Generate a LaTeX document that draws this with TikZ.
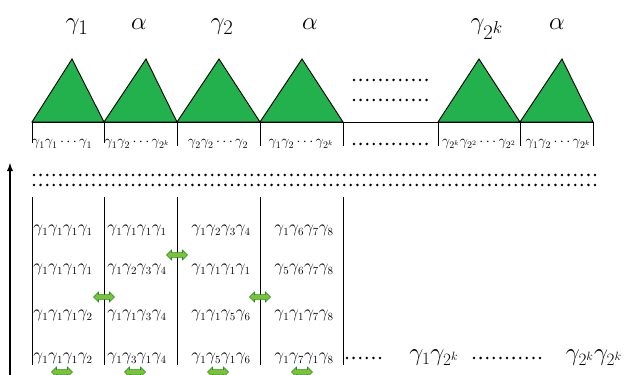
\documentclass[tikz,border=0pt]{standalone}
\usetikzlibrary{positioning,shapes.arrows}
\definecolor{trigreen}{RGB}{34,177,76}
\definecolor{swapfill}{RGB}{122,196,52}
\definecolor{swapline}{RGB}{38,140,46}
\tikzset{
  tri/.style={draw=black, fill=trigreen, line width=0.9pt},
  big/.style={font=\fontsize{32}{34}\selectfont, inner sep=0pt, anchor=base},
  cell/.style={font=\fontsize{14}{16}\selectfont, inner sep=0pt, anchor=base},
  word/.style={font=\fontsize{16}{18}\selectfont, inner sep=0pt, anchor=base},
  tail/.style={font=\fontsize{24}{26}\selectfont, inner sep=0pt, anchor=base},
  dotrow/.style={line width=2.8pt, line cap=round, dash pattern=on 0pt off 6.6pt},
  swaparrow/.style={double arrow, fill=swapfill, draw=swapline, line width=0.6pt,
    minimum width=10pt, minimum height=21pt, inner sep=1.6pt, double arrow head extend=2pt},
}

\begin{document}
\begin{tikzpicture}[x=1pt, y=1pt]
    \useasboundingbox (0,0) rectangle (633,375);

    % triangles on the top line
    \draw[tri] (32,253) -- (72,316) -- (104,253) -- cycle;
    \draw[tri] (104,253) -- (146,316) -- (177,253) -- cycle;
    \draw[tri] (177,253) -- (219,316) -- (260,253) -- cycle;
    \draw[tri] (260,253) -- (302,316) -- (343,253) -- cycle;
    \draw[tri] (438,253) -- (479,316) -- (520,253) -- cycle;
    \draw[tri] (520,253) -- (562,316) -- (593,253) -- cycle;
    \draw[line width=0.9pt] (32,253) -- (593,253);

    \node[big] (t1) at (77,345) {$\gamma_1$};
    \node[big] (t2) at (139,345) {$\alpha$};
    \node[big] (t3) at (222,345) {$\gamma_2$};
    \node[big] (t4) at (310,345) {$\alpha$};
    \node[big] (t5) at (487,345) {$\gamma_{2^k}$};
    \node[big] (t6) at (557,345) {$\alpha$};

    \draw[dotrow] (354,295) -- (428,295);
    \draw[dotrow] (354,275) -- (428,275);

    % ticks and words under the triangles
    \draw[line width=0.8pt] (32,253) -- (32,232);
    \draw[line width=0.8pt] (104,253) -- (104,232);
    \draw[line width=0.8pt] (177,253) -- (177,229);
    \draw[line width=0.8pt] (260,253) -- (260,229);
    \draw[line width=0.8pt] (343,253) -- (343,229);
    \draw[line width=0.8pt] (438,253) -- (438,229);
    \draw[line width=0.8pt] (520,253) -- (520,229);
    \draw[line width=0.8pt] (593,253) -- (593,229);

    \node[cell] (w1) at (62,229) {$\gamma_1\gamma_1\cdots\gamma_1$};
    \node[cell] (w2) at (137,229) {$\gamma_1\gamma_2\cdots\gamma_{2^k}$};
    \node[cell] (w3) at (218,229) {$\gamma_2\gamma_2\cdots\gamma_2$};
    \node[cell] (w4) at (301,229) {$\gamma_1\gamma_2\cdots\gamma_{2^k}$};
    \node[cell] (w5) at (479,229) {$\gamma_{2^k}\gamma_{2^2}\cdots\gamma_{2^2}$};
    \node[cell] (w6) at (558,229) {$\gamma_1\gamma_2\cdots\gamma_{2^k}$};
    \draw[dotrow] (354,231) -- (428,231);

    \draw[dotrow] (34,200) -- (598,200);
    \draw[dotrow] (34,190) -- (598,190);

    % time axis
    \draw[-latex, line width=1.8pt] (10,0) -- (10,212);

    % the population, column by column
    \draw[line width=1pt] (32,178) -- (32,10);
    \draw[line width=1pt] (104,178) -- (104,10);
    \draw[line width=1pt] (177,178) -- (177,10);
    \draw[line width=1pt] (260,178) -- (260,10);
    \draw[line width=1pt] (343,178) -- (343,10);

    \node[word] (a1) at (63,142) {$\gamma_1\gamma_1\gamma_1\gamma_1$};
    \node[word] (a2) at (63,103) {$\gamma_1\gamma_1\gamma_1\gamma_1$};
    \node[word] (a3) at (63,57) {$\gamma_1\gamma_1\gamma_1\gamma_2$};
    \node[word] (a4) at (63,14) {$\gamma_1\gamma_1\gamma_1\gamma_2$};

    \node[word] (b1) at (137,142) {$\gamma_1\gamma_1\gamma_1\gamma_1$};
    \node[word] (b2) at (137,103) {$\gamma_1\gamma_2\gamma_3\gamma_4$};
    \node[word] (b3) at (137,57) {$\gamma_1\gamma_1\gamma_3\gamma_4$};
    \node[word] (b4) at (137,14) {$\gamma_1\gamma_3\gamma_1\gamma_4$};

    \node[word] (c1) at (221,142) {$\gamma_1\gamma_2\gamma_3\gamma_4$};
    \node[word] (c2) at (221,103) {$\gamma_1\gamma_1\gamma_1\gamma_1$};
    \node[word] (c3) at (221,57) {$\gamma_1\gamma_1\gamma_5\gamma_6$};
    \node[word] (c4) at (221,14) {$\gamma_1\gamma_5\gamma_1\gamma_6$};

    \node[word] (d1) at (304,142) {$\gamma_1\gamma_6\gamma_7\gamma_8$};
    \node[word] (d2) at (304,103) {$\gamma_5\gamma_6\gamma_7\gamma_8$};
    \node[word] (d3) at (304,57) {$\gamma_1\gamma_1\gamma_7\gamma_8$};
    \node[word] (d4) at (304,14) {$\gamma_1\gamma_7\gamma_1\gamma_8$};

    % swaps
    \node[swaparrow] (s1) at (177,120) {};
    \node[swaparrow] (s2) at (104,78) {};
    \node[swaparrow] (s3) at (260,78) {};
    \node[swaparrow] (s4) at (62,3) {};
    \node[swaparrow] (s5) at (135,3) {};
    \node[swaparrow] (s6) at (218,3) {};
    \node[swaparrow] (s7) at (302,3) {};

    % the last generation
    \node[tail] (e1) at (434,14) {$\gamma_1\gamma_{2^k}$};
    \node[tail] (e2) at (594,14) {$\gamma_{2^k}\gamma_{2^k}$};
    \draw[dotrow] (347,17) -- (386,17);
    \draw[dotrow] (474,17) -- (546,17);
\end{tikzpicture}
\end{document}
